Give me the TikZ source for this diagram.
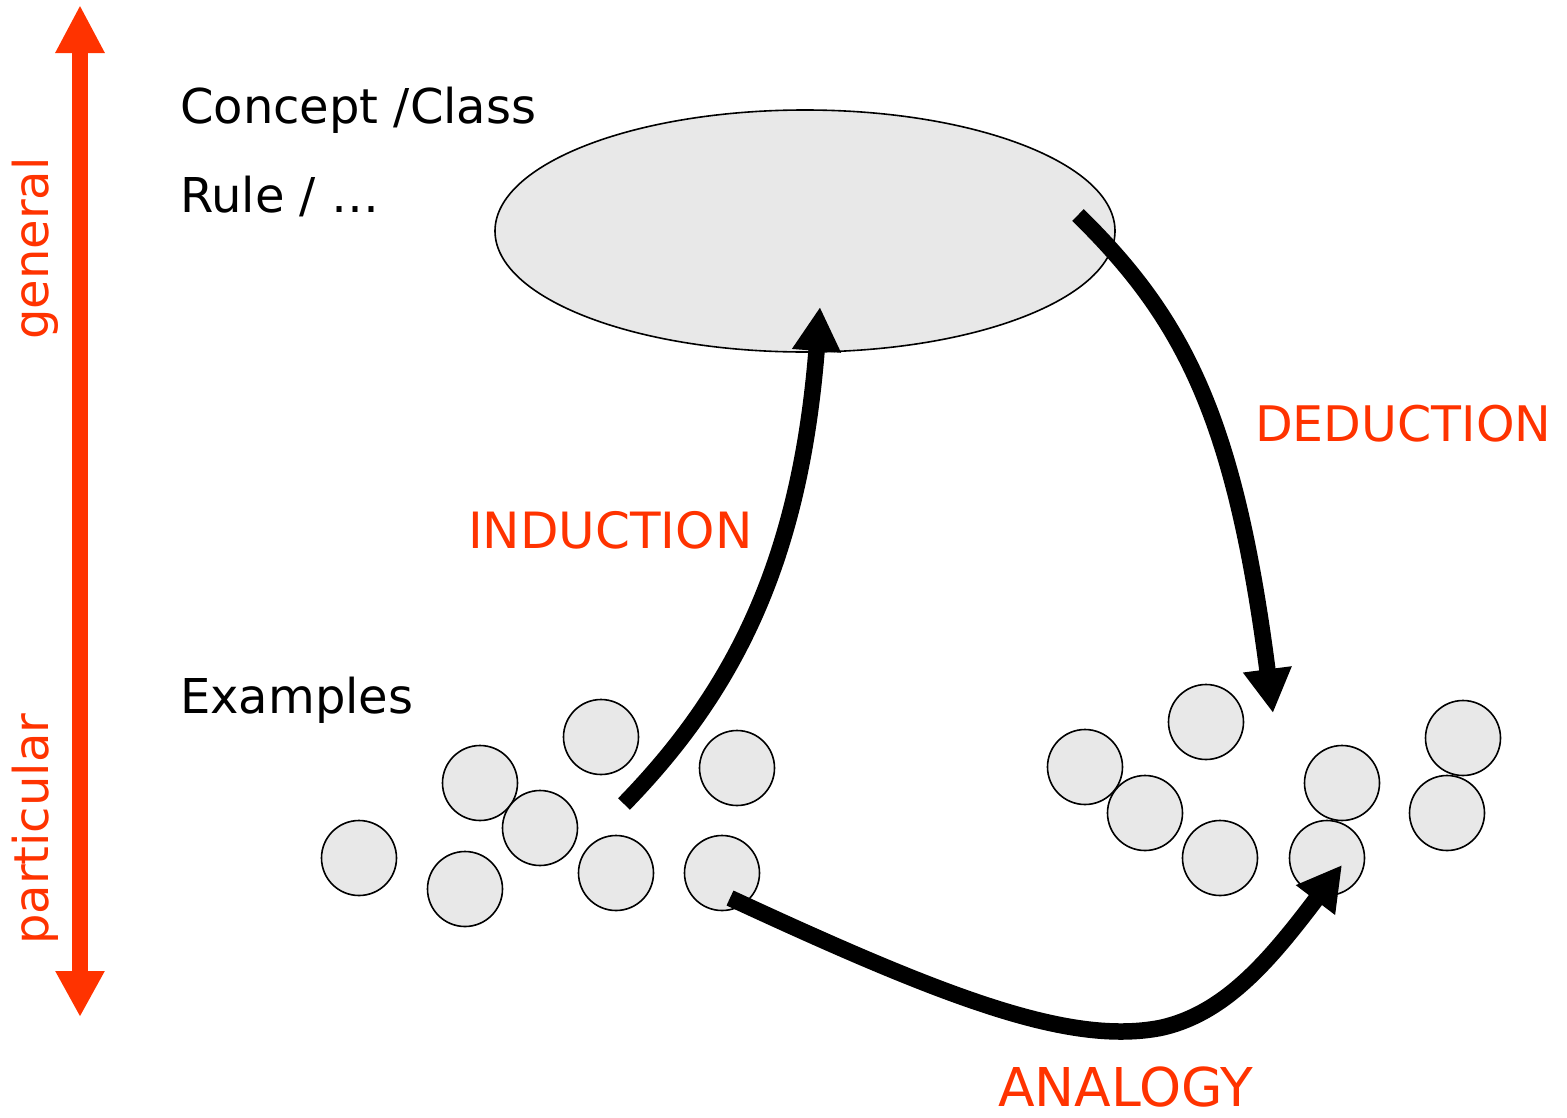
\documentclass[tikz,border=0pt]{standalone}
\usepackage{fontspec}
\setmainfont{DejaVu Sans}
\usetikzlibrary{arrows.meta,shapes.geometric,calc}
\definecolor{lblred}{RGB}{255,51,0}
\definecolor{dotgray}{RGB}{232,232,232}
\begin{document}
\begin{tikzpicture}[x=1pt,y=-1pt,
  txt/.style={font=\fontsize{48}{58}\selectfont, inner sep=0pt, anchor=base west, text depth=0pt},
  redtxt/.style={txt, text=lblred},
  example/.style={circle, draw=black, line width=1.6pt, fill=dotgray, minimum size=75pt, inner sep=0pt},
  concept/.style={ellipse, draw=black, line width=1.6pt, fill=dotgray, minimum width=620pt, minimum height=242pt, inner sep=0pt},
  flow/.style={line width=16.5pt, -{Triangle[length=44pt,width=46pt]}},
  scaleaxis/.style={draw=lblred, line width=16pt, {Triangle[length=48pt,width=46pt]}-{Triangle[length=46pt,width=46pt]}}]
\useasboundingbox (0,0) rectangle (1567,1117);

% generality axis
\coordinate (axtop) at (80,5);
\coordinate (axbot) at (80,1017);
\draw[scaleaxis] (axtop) -- (axbot);
\node[redtxt, rotate=90] (gen) at (48,340) {general};
\node[redtxt, rotate=90] (part) at (48,945) {particular};

% side texts
\node[txt] (cc) at (180,123) {Concept /Class};
\node[txt] (rule) at (180,212) {Rule / …};
\node[txt] (exm) at (180,713) {Examples};

% concept
\node[concept] (C) at (805,231) {};

% examples, left group
\node[example] (a1) at (601,737) {};
\node[example] (a2) at (480,783) {};
\node[example] (a3) at (737,768) {};
\node[example] (a4) at (540,828) {};
\node[example] (a5) at (359,858) {};
\node[example] (a6) at (465,889) {};
\node[example] (a7) at (616,873) {};
\node[example] (a8) at (722,873) {};

% examples, right group
\node[example] (b1) at (1206,722) {};
\node[example] (b2) at (1085,767) {};
\node[example] (b3) at (1463,738) {};
\node[example] (b4) at (1342,783) {};
\node[example] (b5) at (1145,813) {};
\node[example] (b6) at (1447,813) {};
\node[example] (b7) at (1220,858) {};
\node[example] (b8) at (1327,858) {};

% connector end points
\coordinate (indS) at (624,804);
\coordinate (indE) at ($(C)+(15,76)$);
\coordinate (dedS) at ($(C)+(273,-16)$);
\coordinate (dedE) at (1273,713);
\coordinate (anaS) at ($(a8)+(8,25)$);
\coordinate (anaE) at ($(b8)+(15,7)$);

% reasoning arrows
\draw[flow] (indS) .. controls (735,690) and (800,560) .. (indE);
\draw[flow] (dedS) .. controls (1185,320) and (1235,420) .. (dedE);
\draw[flow] (anaS) .. controls (950,1000) and (1070,1045) .. (1160,1028)
  .. controls (1225,1014) and (1270,960) .. (anaE);

% labels
\node[redtxt, font=\fontsize{50}{60}\selectfont] (ind) at (468,548) {INDUCTION};
\node[redtxt, font=\fontsize{49}{59}\selectfont] (ded) at (1255,441) {DEDUCTION};
\node[redtxt, font=\fontsize{53.5}{64}\selectfont] (ana) at (998,1106) {ANALOGY};
\end{tikzpicture}
\end{document}
